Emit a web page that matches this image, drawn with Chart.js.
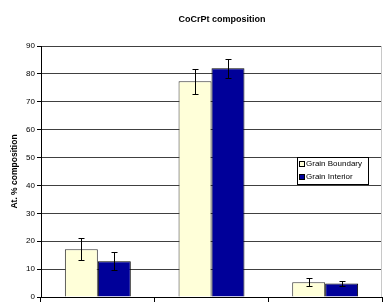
<!DOCTYPE html>
<html>
<head>
<meta charset="utf-8">
<script src="https://cdn.jsdelivr.net/npm/chart.js@4/dist/chart.umd.min.js"></script>
<style>
  html, body { margin: 0; padding: 0; background: #fff; overflow: hidden; }
  #wrap { width: 383px; height: 306px; position: relative; }
</style>
</head>
<body>
<div id="wrap"><canvas id="c"></canvas></div>
<script>
const chartTitle = 'CoCrPt composition';
const yAxisTitle = 'At. % composition';
const categories = ['Co', 'Cr', 'Pt'];
const seriesNames = ['Grain Boundary', 'Grain Interior'];
const grainBoundary = [17.1, 77.4, 5.3];
const grainBoundaryErr = [3.9, 4.5, 1.4];
const grainInterior = [12.8, 82.0, 4.8];
const grainInteriorErr = [3.2, 3.3, 1.0];
const yTicks = [0, 10, 20, 30, 40, 50, 60, 70, 80, 90];

const FONT = "'Liberation Sans', Arial, sans-serif";
const GB_COLOR = '#FFFFD9';
const GI_COLOR = '#000099';

const errorBars = {
  id: 'errorBars',
  afterDatasetsDraw(chart) {
    const ctx = chart.ctx;
    const yScale = chart.scales.y;
    ctx.save();
    ctx.strokeStyle = '#000';
    ctx.lineWidth = 1;
    chart.data.datasets.forEach((ds, i) => {
      const meta = chart.getDatasetMeta(i);
      meta.data.forEach((bar, j) => {
        const v = ds.data[j], e = ds.errors[j];
        const x = Math.round(bar.x) + 0.5;
        const yt = Math.round(yScale.getPixelForValue(v + e)) + 0.5;
        const yb = Math.round(yScale.getPixelForValue(v - e)) + 0.5;
        ctx.beginPath();
        ctx.moveTo(x, yt); ctx.lineTo(x, yb);
        ctx.moveTo(x - 3, yt); ctx.lineTo(x + 3, yt);
        ctx.moveTo(x - 3, yb); ctx.lineTo(x + 3, yb);
        ctx.stroke();
      });
    });
    ctx.restore();
  }
};

const decorations = {
  id: 'decorations',
  afterDraw(chart) {
    const ctx = chart.ctx;
    const a = chart.chartArea;
    ctx.save();
    // right plot border
    ctx.strokeStyle = '#c8c8c8';
    ctx.lineWidth = 1;
    ctx.beginPath();
    ctx.moveTo(Math.round(a.right) - 0.5, a.top);
    ctx.lineTo(Math.round(a.right) - 0.5, a.bottom);
    ctx.stroke();
    // title
    ctx.fillStyle = '#000';
    ctx.font = 'bold 9px ' + FONT;
    ctx.textAlign = 'center';
    ctx.textBaseline = 'middle';
    ctx.fillText(chartTitle, 222, 20);
    // legend
    const lx = 297, ly = 157, lw = 71, lh = 27;
    ctx.fillStyle = '#fff';
    ctx.fillRect(lx, ly, lw, lh);
    ctx.strokeStyle = '#000';
    ctx.strokeRect(lx + 0.5, ly + 0.5, lw, lh);
    const colors = [GB_COLOR, GI_COLOR];
    chart.data.datasets.forEach((ds, i) => {
      const cy = ly + 7 + i * 13;
      ctx.fillStyle = colors[i];
      ctx.fillRect(lx + 2.5, cy - 3, 5, 5);
      ctx.strokeStyle = '#000';
      ctx.strokeRect(lx + 2.5, cy - 2.5, 5, 5);
      ctx.fillStyle = '#000';
      ctx.font = '8px ' + FONT;
      ctx.textAlign = 'left';
      ctx.textBaseline = 'middle';
      ctx.fillText(ds.label, lx + 9, cy);
    });
    ctx.restore();
  }
};

new Chart(document.getElementById('c'), {
  type: 'bar',
  data: {
    labels: categories,
    datasets: [
      { label: seriesNames[0], data: grainBoundary, errors: grainBoundaryErr,
        backgroundColor: GB_COLOR, borderColor: '#333', borderWidth: 1 },
      { label: seriesNames[1], data: grainInterior, errors: grainInteriorErr,
        backgroundColor: GI_COLOR, borderColor: '#000', borderWidth: 1 }
    ]
  },
  options: {
    responsive: true,
    maintainAspectRatio: false,
    animation: false,
    devicePixelRatio: 1,
    layout: { padding: { top: 46, right: 1, bottom: 0, left: 0 } },
    datasets: { bar: { categoryPercentage: 0.58, barPercentage: 1.0 } },
    plugins: {
      legend: { display: false },
      title: { display: false },
      tooltip: { enabled: false }
    },
    scales: {
      x: {
        grid: { drawOnChartArea: false, drawTicks: true, tickLength: 5, tickColor: '#000', offset: true },
        border: { color: '#000', width: 1 },
        ticks: { display: false },
        afterFit(scale) { scale.height = 9; }
      },
      y: {
        min: 0, max: 90,
        afterBuildTicks(scale) { scale.ticks = yTicks.map(v => ({ value: v })); },
        grid: { color: '#404040', lineWidth: 1, drawTicks: true, tickLength: 4, tickColor: '#000' },
        border: { color: '#000', width: 1 },
        ticks: { font: { family: FONT, size: 8 }, color: '#000', padding: 2 },
        title: { display: true, text: yAxisTitle, font: { family: FONT, size: 8.5, weight: 'bold' }, color: '#000', padding: { top: 10, bottom: 0 } },
        afterFit(scale) { scale.width = 41; }
      }
    }
  },
  plugins: [errorBars, decorations]
});
</script>
</body>
</html>
